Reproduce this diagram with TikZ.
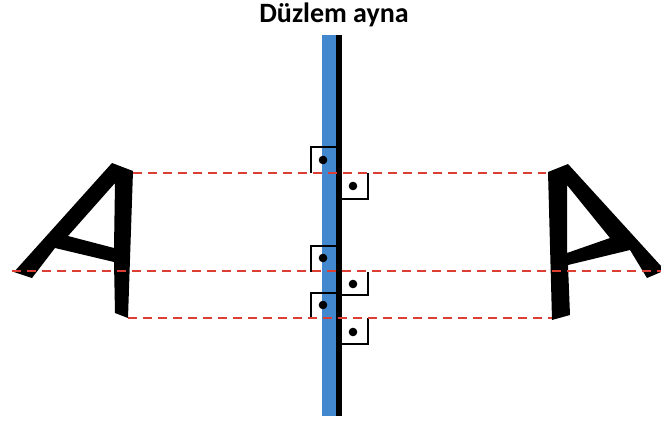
\documentclass[tikz,border=0pt]{standalone}
\usepackage{fontspec}
\setmainfont{Carlito}
\begin{document}
\begin{tikzpicture}[x=1pt,y=-1pt,
  ray/.style={draw={rgb,255:red,221;green,62;blue,52},line width=2pt,dash pattern=on 9pt off 6pt},
  perp/.style={draw=black,line width=1.8pt},
  dotmark/.style={fill=black},
  letter/.style={fill=black,even odd rule}]
\useasboundingbox (0,0) rectangle (661,423);
\node[font=\bfseries\fontsize{28}{30}\selectfont,anchor=base,inner sep=0pt] (title) at (334,23) {Düzlem ayna};
% mirror
\fill[fill={rgb,255:red,66;green,136;blue,206}] (322,35) rectangle (336,416);
\fill[black] (336,35) rectangle (342,416);
% left A (mirrored)
\path[letter] (112,163) -- (133,171) -- (128,318) -- (115,313) -- (114,262) -- (55,248) -- (32,278) -- (14,272) -- cycle
  (115,183) -- (68,236) -- (114,248) -- cycle;
% right A
\path[letter] (548,172) -- (568,164) -- (661,266) -- (661,272) -- (647,278) -- (630,250) -- (568,265) -- (570,315) -- (552,320) -- cycle
  (567,185) -- (610,238) -- (567,253) -- cycle;
% perpendicular marks
\draw[perp] (311,173) -- (311,147) -- (336,147);
\draw[perp] (342,199) -- (368,199) -- (368,173);
\draw[perp] (311,272) -- (311,246) -- (336,246);
\draw[perp] (342,295) -- (368,295) -- (368,272);
\draw[perp] (311,318) -- (311,293) -- (336,293);
\draw[perp] (342,344) -- (368,344) -- (368,318);
\fill[dotmark] (323,160) circle (4.3);
\fill[dotmark] (353,186) circle (4.3);
\fill[dotmark] (323,258) circle (4.3);
\fill[dotmark] (353,284) circle (4.3);
\fill[dotmark] (323,305) circle (4.3);
\fill[dotmark] (353,332) circle (4.3);
% rays
\coordinate (t1) at (133,173); \coordinate (t2) at (546,173);
\coordinate (m1) at (12,271); \coordinate (m2) at (661,271);
\coordinate (b1) at (128,318); \coordinate (b2) at (552,318);
\draw[ray] (t1) -- (t2);
\draw[ray] (m1) -- (m2);
\draw[ray] (b1) -- (b2);
\end{tikzpicture}
\end{document}
